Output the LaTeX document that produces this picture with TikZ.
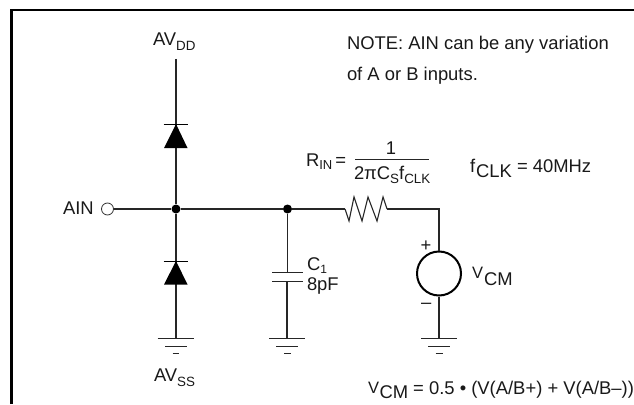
\documentclass[tikz,border=0pt]{standalone}
\usepackage{fontspec}
\setmainfont{Liberation Sans}
\newcommand{\lowtxt}[3][13.4]{\raisebox{-#2pt}{\fontsize{#1}{#1}\selectfont #3}}
\newcommand{\smallv}{{\fontsize{16.5}{16.5}\selectfont V}}
\tikzset{
  x=1pt,y=-1pt,
  lbl/.style={inner sep=0pt,outer sep=0pt,text=black!90,font=\fontsize{18.4}{20}\selectfont},
  wire/.style={draw=black!85,line width=1.1pt},
  frameline/.style={draw=black,line width=2.5pt},
  dot/.style={circle,fill=black,inner sep=0pt,minimum size=9pt},
  openterm/.style={circle,draw=black!80,fill=white,line width=0.8pt,inner sep=0pt,minimum size=12pt},
  source/.style={circle,draw=black,fill=white,line width=2pt,inner sep=0pt,minimum size=44pt},
  gndline/.style={draw=black!85,line width=1pt},
  diodebar/.style={draw=black,line width=1pt},
  diodetri/.style={fill=black}
}
\begin{document}
\begin{tikzpicture}
\useasboundingbox (0,0) rectangle (634,404);
\fill[white] (0,0) rectangle (634,404);
% frame
\coordinate (fa) at (11.5,404);
\coordinate (fb) at (11.5,10);
\coordinate (fc) at (634,10);
\draw[frameline] (fa) -- (fb) -- (fc);
% named points
\coordinate (ddtop) at (176,59);
\node[dot] (j1) at (176,209) {};
\node[dot] (j2) at (287.5,209) {};
\node[openterm] (ain) at (107.5,209) {};
\coordinate (ssbot) at (176,338);
\coordinate (capbot) at (287,338);
\coordinate (captop) at (287.5,272);
\coordinate (capmid) at (287,281);
\coordinate (rs) at (345,209);
\coordinate (re) at (387,209);
\coordinate (corner) at (439,209);
\node[source] (vs) at (439,273.5) {};
\coordinate (vsbot) at (439,338);
% wires
\draw[wire] (ddtop) -- (j1);
\draw[wire] (j1) -- (ssbot);
\draw[wire] (ain) -- (j1);
\draw[wire] (j1) -- (j2);
\draw[wire] (j2) -- (rs);
\draw[wire] (j2) -- (captop);
\draw[wire] (capmid) -- (capbot);
\draw[wire,line join=miter] (rs) -- (349,221) -- (354,197) -- (362,221) -- (368,197) -- (377,221) -- (383,197) -- (re);
\draw[wire] (re) -- (corner) -- (vs);
\draw[wire] (vs) -- (vsbot);
% diodes
\draw[diodebar] (163.5,124) -- (188,124);
\fill[diodetri] (176,124) -- (187.5,148) -- (164,148) -- cycle;
\draw[diodebar] (163.5,261) -- (188,261);
\fill[diodetri] (176,261) -- (187.5,284.5) -- (164,284.5) -- cycle;
% capacitor
\draw[gndline] (272,272) -- (302.5,272);
\draw[gndline] (272,281) -- (302.5,281);
% grounds
\draw[gndline] (157.5,338.5) -- (193.5,338.5);
\draw[gndline] (165,346) -- (186.5,346);
\draw[gndline] (172.5,353.5) -- (179,353.5);
\draw[gndline] (269,338.5) -- (305,338.5);
\draw[gndline] (276,346) -- (298,346);
\draw[gndline] (284,353.5) -- (291,353.5);
\draw[gndline] (421,338.5) -- (457,338.5);
\draw[gndline] (428,346) -- (450,346);
\draw[gndline] (435.5,353.5) -- (443,353.5);
% labels
\node[lbl,anchor=base west] (tdd) at (153,46) {AV\lowtxt{5}{DD}};
\node[lbl,anchor=base west] (tss) at (154,381) {AV\lowtxt{5}{SS}};
\node[lbl,anchor=base west] (tain) at (63,214) {AIN};
\node[lbl,anchor=base west] (tn1) at (347,50) {NOTE: AIN can be any variation};
\node[lbl,anchor=base west] (tn2) at (347,80) {of A or B inputs.};
\node[lbl,anchor=base west] (tc1) at (307,270) {C\lowtxt[12]{3.5}{1}};
\node[lbl,anchor=base west] (tc2) at (307,290.5) {8pF};
\node[lbl,anchor=base west] (trin) at (306,166.5) {R\lowtxt[13]{3}{IN}\,=};
\draw[draw=black!85,line width=1pt] (355,159.5) -- (428.5,159.5);
\node[lbl,anchor=base] (tnum) at (391,154) {1};
\node[lbl,anchor=base west] (tden) at (354,179) {2πC\lowtxt[13.4]{4}{S}f\lowtxt[13.4]{4}{CLK}};
\node[lbl,anchor=base west] (tclk) at (470,172.5) {f\kern1pt\lowtxt[18.4]{4.5}{CLK} = 40MHz};
\node[lbl,anchor=base west] (tplus) at (420.5,251) {+};
\node[lbl,anchor=base west] (tminus) at (421,308) {–};
\node[lbl,anchor=base west] (tvcm) at (472,278) {\smallv\kern1pt\lowtxt[18.4]{7}{CM}};
\node[lbl,anchor=base west] (tform) at (368,394.5) {\raisebox{1.5pt}{\smallv}\kern0.5pt\lowtxt[18.4]{3.5}{CM} = 0.5 • (V(A/B+) + V(A/B–))};
\end{tikzpicture}
\end{document}
